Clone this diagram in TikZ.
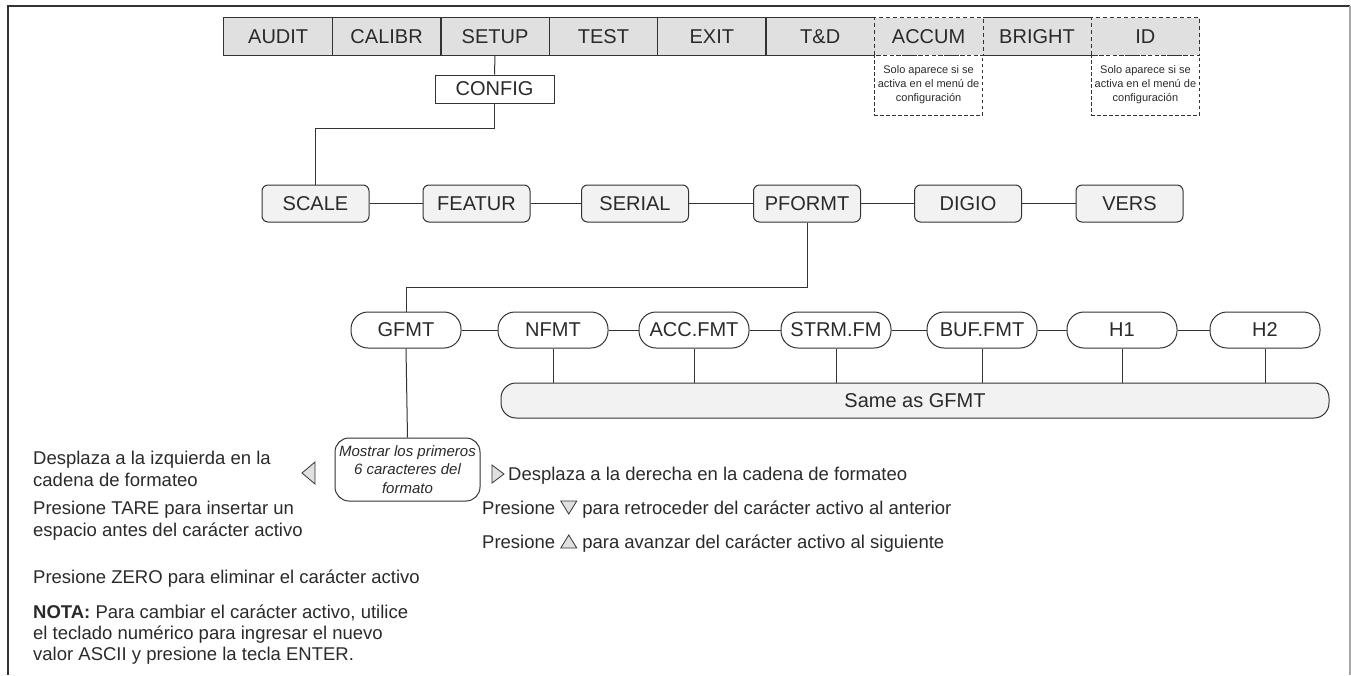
\documentclass[tikz,border=0pt]{standalone}
\usepackage{fontspec}
\setmainfont{Liberation Sans}
\definecolor{lc}{HTML}{333333}
\definecolor{tc}{HTML}{2A2A2A}
\definecolor{barfill}{HTML}{E0E0E0}
\definecolor{boxfill}{HTML}{F2F2F2}
\newcommand\labfont{\fontsize{20pt}{23pt}\selectfont}
\newcommand\bodyfont{\fontsize{18.5pt}{22pt}\selectfont}
\newcommand\notefont{\fontsize{11pt}{14pt}\selectfont}
\newcommand\showfont{\fontsize{15pt}{18.5pt}\selectfont\itshape}
\newcommand\dntri{\tikz[baseline=0pt,x=1pt,y=1pt]\draw[fill=barfill,draw=lc,line width=0.8pt] (0,13) -- (16,13) -- (8,0) -- cycle;}
\newcommand\uptri{\tikz[baseline=0pt,x=1pt,y=1pt]\draw[fill=barfill,draw=lc,line width=0.8pt] (0,0) -- (16,0) -- (8,13) -- cycle;}
\tikzset{
  line/.style={draw=lc, line width=1pt},
  barbox/.style={fill=barfill, minimum width=108.4pt, minimum height=37pt, inner sep=0pt, font=\labfont, text=tc},
  notebox/.style={draw=lc, line width=0.9pt, dash pattern=on 3.5pt off 2.5pt, minimum width=108.4pt, minimum height=60pt, inner sep=0pt, align=center, font=\notefont, text=tc},
  cfgbox/.style={draw=lc, line width=1pt, fill=white, minimum width=119pt, minimum height=28pt, inner sep=0pt, font=\labfont, text=tc},
  rowtwo/.style={draw=lc, line width=1pt, fill=boxfill, rounded corners=6pt, minimum width=107pt, minimum height=37pt, inner sep=0pt, font=\labfont, text=tc},
  rowthree/.style={draw=lc, line width=1pt, fill=white, rounded corners=17pt, minimum width=110pt, minimum height=36pt, inner sep=0pt, font=\labfont, text=tc},
  samebox/.style={draw=lc, line width=1pt, fill=boxfill, rounded corners=15pt, minimum width=828pt, minimum height=35pt, inner sep=0pt, font=\labfont, text=tc},
  showbox/.style={draw=lc, line width=1pt, fill=white, rounded corners=14pt, minimum width=145pt, minimum height=63pt, inner sep=0pt, align=center, font=\showfont, text=tc},
  bodytext/.style={anchor=base west, inner sep=0pt, font=\bodyfont, text=tc},
  tri/.style={draw=lc, line width=0.8pt, fill=barfill}
}
\begin{document}
\begin{tikzpicture}[x=1pt,y=-1pt]
\useasboundingbox (0,0) rectangle (1351,675);
% frame
\draw[draw=lc, line width=1.6pt] (8,675) -- (8,6) -- (1350,6);
\draw[draw=gray!70, line width=1.6pt] (1350,6) -- (1350,675);

% top menu bar
\node[barbox] (audit)  at (278.2,36.5) {AUDIT};
\node[barbox] (calibr) at (386.6,36.5) {CALIBR};
\node[barbox] (setup)  at (495.0,36.5) {SETUP};
\node[barbox] (test)   at (603.4,36.5) {TEST};
\node[barbox] (exit)   at (711.8,36.5) {EXIT};
\node[barbox] (td)     at (820.2,36.5) {T\&D};
\node[barbox] (accum)  at (928.6,36.5) {ACCUM};
\node[barbox] (bright) at (1037.0,36.5) {BRIGHT};
\node[barbox] (id)     at (1145.4,36.5) {ID};
\foreach \b in {audit,calibr,setup,test,exit}
  \draw[line] (\b.south west) rectangle (\b.north east);
\draw[line] (td.north east) -- (td.north west) -- (td.south west) -- (td.south east);
\draw[line] (bright.north west) -- (bright.north east);
\draw[line] (bright.south west) -- (bright.south east);
\draw[line, dash pattern=on 4pt off 3pt] (accum.south west) rectangle (accum.north east);
\draw[line, dash pattern=on 4pt off 3pt] (id.south west) rectangle (id.north east);

% notes
\node[notebox] (accnote) at (928.6,85) {Solo aparece si se\\activa en el menú de\\configuración};
\node[notebox] (idnote)  at (1145.4,85) {Solo aparece si se\\activa en el menú de\\configuración};

% config
\node[cfgbox] (config) at (494.5,89) {CONFIG};
\draw[line] (setup.south) -- (config.north);

% second row
\node[rowtwo] (scale)  at (315.5,203.5) {SCALE};
\node[rowtwo] (featur) at (476.5,203.5) {FEATUR};
\node[rowtwo] (serial) at (635.0,203.5) {SERIAL};
\node[rowtwo] (pformt) at (807.0,203.5) {PFORMT};
\node[rowtwo] (digio)  at (968.0,203.5) {DIGIO};
\node[rowtwo] (vers)   at (1129.5,203.5) {VERS};
\coordinate (cfgturn) at (494.5,128);
\draw[line] (config.south) -- (cfgturn) -| (scale.north);
\draw[line] (scale.east) -- (featur.west);
\draw[line] (featur.east) -- (serial.west);
\draw[line] (serial.east) -- (pformt.west);
\draw[line] (pformt.east) -- (digio.west);
\draw[line] (digio.east) -- (vers.west);

% third row
\node[rowthree] (gfmt)   at (406,330) {GFMT};
\node[rowthree] (nfmt)   at (553,330) {NFMT};
\node[rowthree] (accfmt) at (694,330) {ACC.FMT};
\node[rowthree] (strmfm) at (836,330) {STRM.FM};
\node[rowthree] (buffmt) at (982,330) {BUF.FMT};
\node[rowthree] (hone)   at (1122,330) {H1};
\node[rowthree] (htwo)   at (1265,330) {H2};
\coordinate (pfturn) at (807,287);
\draw[line] (pformt.south) -- (pfturn) -| (gfmt.north);
\draw[line] (gfmt.east) -- (nfmt.west);
\draw[line] (nfmt.east) -- (accfmt.west);
\draw[line] (accfmt.east) -- (strmfm.west);
\draw[line] (strmfm.east) -- (buffmt.west);
\draw[line] (buffmt.east) -- (hone.west);
\draw[line] (hone.east) -- (htwo.west);

% same as
\node[samebox] (same) at (915,400.5) {Same as GFMT};
\foreach \b in {nfmt,accfmt,strmfm,buffmt,hone,htwo}
  \draw[line] (\b.south) -- (\b.south |- same.north);

% show box
\node[showbox] (show) at (407.5,469.5) {Mostrar los primeros\\6 caracteres del\\formato};
\draw[line] (gfmt.south) -- (show.north);

% arrows
\draw[tri] (315,462) -- (315,484) -- (302,473) -- cycle;
\draw[tri] (492,465) -- (492,483) -- (504,474) -- cycle;

% left texts
\node[bodytext] (l1) at (33,464) {Desplaza a la izquierda en la};
\node[bodytext] (l2) at (33,486) {cadena de formateo};
\node[bodytext] (l3) at (33,514) {Presione TARE para insertar un};
\node[bodytext] (l4) at (33,536) {espacio antes del carácter activo};
\node[bodytext] (l5) at (33,583) {Presione ZERO para eliminar el carácter activo};
\node[bodytext] (l6) at (33,618) {{\bfseries NOTA:} Para cambiar el carácter activo, utilice};
\node[bodytext] (l7) at (33,639) {el teclado numérico para ingresar el nuevo};
\node[bodytext] (l8) at (33,660) {valor ASCII y presione la tecla ENTER.};

% right texts
\node[bodytext] (r1) at (508,480) {Desplaza a la derecha en la cadena de formateo};
\node[bodytext] (r2) at (482,514) {Presione \dntri{} para retroceder del carácter activo al anterior};
\node[bodytext] (r3) at (482,548) {Presione \uptri{} para avanzar del carácter activo al siguiente};
\end{tikzpicture}
\end{document}
